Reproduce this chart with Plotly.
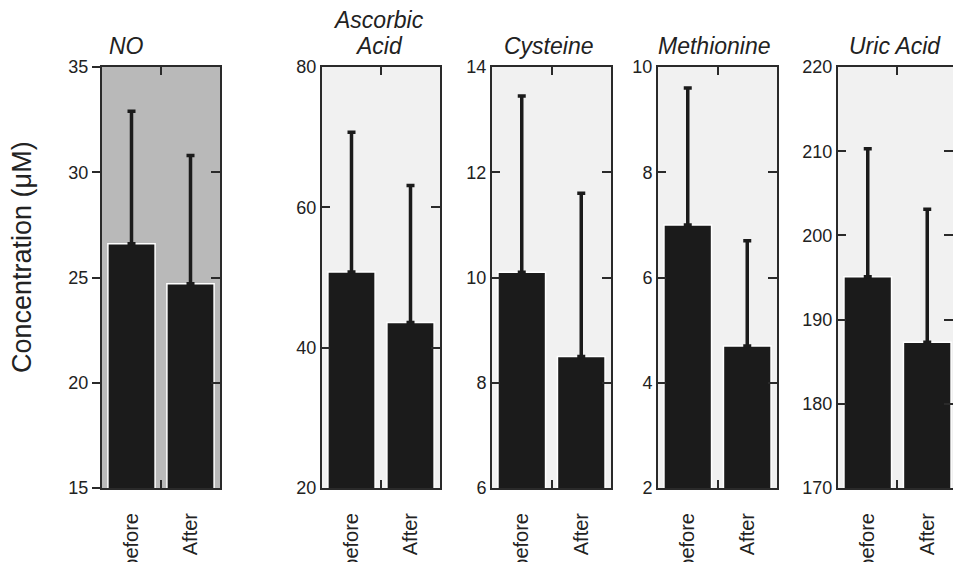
import plotly.graph_objects as go

# Plasma levels before and after, one panel per analyte (mean and upper SD)
categories = ["before", "After"]
analytes = ["NO", "Ascorbic<br>Acid", "Cysteine", "Methionine", "Uric Acid"]

no_mean = [26.6, 24.7]
no_sd = [6.3, 6.1]
ascorbic_mean = [50.8, 43.6]
ascorbic_sd = [19.9, 19.5]
cysteine_mean = [10.1, 8.5]
cysteine_sd = [3.35, 3.1]
methionine_mean = [7.0, 4.7]
methionine_sd = [2.6, 2.0]
uric_mean = [195.1, 187.3]
uric_sd = [15.2, 15.8]

means = [no_mean, ascorbic_mean, cysteine_mean, methionine_mean, uric_mean]
sds = [no_sd, ascorbic_sd, cysteine_sd, methionine_sd, uric_sd]

y_ranges = [[15, 35], [20, 80], [6, 14], [2, 10], [170, 220]]
y_ticks = [
    [15, 20, 25, 30, 35],
    [20, 40, 60, 80],
    [6, 8, 10, 12, 14],
    [2, 4, 6, 8, 10],
    [170, 180, 190, 200, 210, 220],
]

# ---- layout geometry (pixels in a 953 x 562 canvas) ----
W, H = 953, 562
panel_px = [(102, 220), (322, 440), (492, 611), (658, 777), (838, 953)]
plot_top, plot_bottom = 67, 488
heading_bottom, heading_line = 60, 26
x_ranges = [[-0.5, 1.5]] * 4 + [[-0.5, 1.433]]
bg_colors = ["#b9b9b9", "#f1f1f1", "#f1f1f1", "#f1f1f1", "#f1f1f1"]
left_tick_dir = ["outside", "inside", "inside", "inside", "inside"]

FONT = "Liberation Sans, Arial, Helvetica, sans-serif"
INK = "#222222"
BAR = "#1b1b1b"
FRAME = "#2a2a2a"

fig = go.Figure()
ydom = [1 - plot_bottom / H, 1 - plot_top / H]
n = len(analytes)

for i in range(n):
    k = i + 1
    ko = k + n
    xa = "x" if k == 1 else f"x{k}"
    ya = "y" if k == 1 else f"y{k}"
    fig.add_trace(go.Bar(
        x=categories, y=means[i], xaxis=xa, yaxis=ya,
        marker=dict(color=BAR, line=dict(color="white", width=1.5)),
        width=0.8,
        error_y=dict(type="data", array=sds[i], arrayminus=[0, 0],
                     symmetric=False, color=BAR, thickness=3.5, width=4),
        hoverinfo="skip", showlegend=False,
    ))
    # empty traces so the overlay tick axes get drawn
    fig.add_trace(go.Scatter(x=[], y=[], xaxis=xa, yaxis=f"y{ko}",
                             showlegend=False, hoverinfo="skip"))
    fig.add_trace(go.Scatter(x=[], y=[], xaxis=f"x{ko}", yaxis=ya,
                             showlegend=False, hoverinfo="skip"))

    xdom = [panel_px[i][0] / W, panel_px[i][1] / W]
    last = i == n - 1
    axis_line = dict(showline=True, linecolor=FRAME, linewidth=2)
    common = dict(showgrid=False, zeroline=False, fixedrange=True,
                  automargin=False)

    # main x axis: category labels, frame top/bottom
    fig.layout[f"xaxis{k if k > 1 else ''}"] = dict(
        domain=xdom, anchor=ya, type="category", range=x_ranges[i],
        ticks="", tickangle=-90, ticklabelstandoff=15,
        tickfont=dict(family=FONT, size=20, color=INK),
        mirror=True, **axis_line, **common,
    )
    # main y axis: left ticks and labels
    fig.layout[f"yaxis{k if k > 1 else ''}"] = dict(
        domain=ydom, anchor=xa, range=y_ranges[i], tickvals=y_ticks[i],
        ticks=left_tick_dir[i], ticklen=8, tickwidth=2, tickcolor=FRAME,
        tickfont=dict(family=FONT, size=18, color=INK),
        mirror=not last, **axis_line, **common,
    )
    # overlay y axis: inward ticks on the right edge
    fig.layout[f"yaxis{ko}"] = dict(
        domain=ydom, anchor=xa, overlaying=ya, side="right",
        range=y_ranges[i], tickvals=y_ticks[i], ticks="inside",
        ticklen=9, tickwidth=2, tickcolor=FRAME,
        showticklabels=False, showline=False, **common,
    )
    # overlay x axis: centre tick on top and bottom edges
    fig.layout[f"xaxis{ko}"] = dict(
        domain=xdom, anchor=ya, overlaying=xa, range=x_ranges[i],
        tickvals=[0.5], ticks="inside", mirror="ticks",
        ticklen=8, tickwidth=2, tickcolor=FRAME,
        showticklabels=False, showline=False, **common,
    )
    # panel background
    fig.add_shape(type="rect", xref=f"{xa} domain", yref=f"{ya} domain",
                  x0=0, x1=1, y0=0, y1=1, fillcolor=bg_colors[i],
                  line=dict(width=0), layer="below")

    # panel heading, one annotation per line for tight line spacing
    if i == 0:
        tx, anchor = (panel_px[i][0] + 6) / W, "left"
    else:
        tx, anchor = ((panel_px[i][0] + panel_px[i][0] + 119) / 2 - 3) / W, "center"
    lines = analytes[i].split("<br>")
    for j, line in enumerate(lines):
        bottom_px = heading_bottom - (len(lines) - 1 - j) * heading_line
        fig.add_annotation(
            text=f"<i>{line}</i>", xref="paper", yref="paper",
            x=tx, y=1 - bottom_px / H, xanchor=anchor, yanchor="bottom",
            showarrow=False, borderpad=0,
            font=dict(family=FONT, size=23, color=INK),
        )

# shared axis title
fig.add_annotation(
    text="Concentration (μM)", xref="paper", yref="paper",
    x=22 / W, y=1 - 257 / H, textangle=-90, showarrow=False,
    xanchor="center", yanchor="middle",
    font=dict(family=FONT, size=27, color=INK),
)

fig.update_layout(
    width=W, height=H, margin=dict(l=0, r=0, t=0, b=0, autoexpand=False),
    paper_bgcolor="white", plot_bgcolor="rgba(0,0,0,0)",
    showlegend=False, bargap=0.2,
)

fig.write_html("out.html")
